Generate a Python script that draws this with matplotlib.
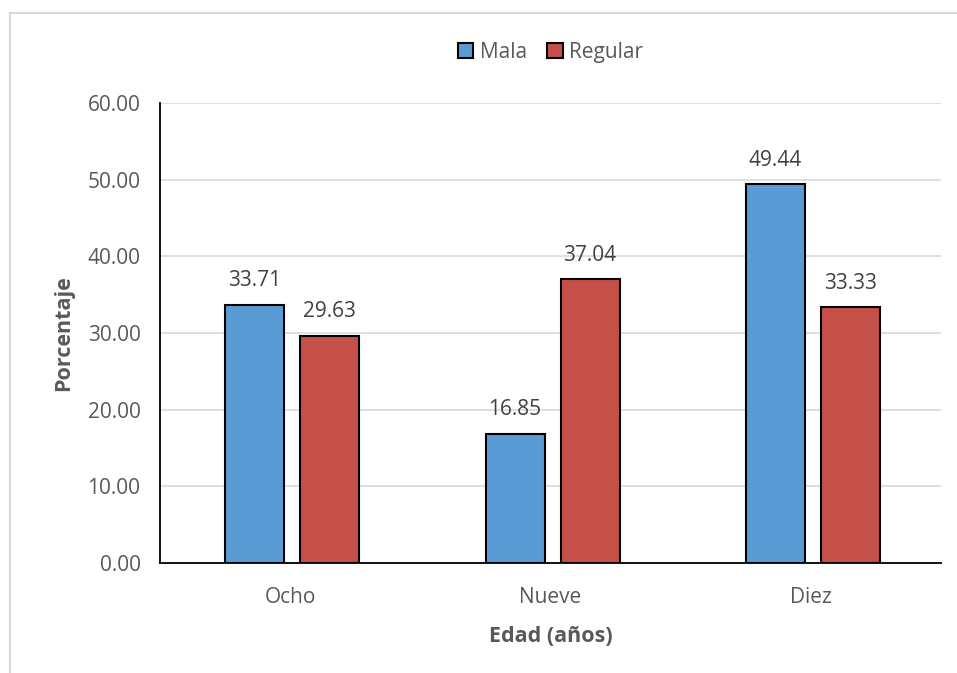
import matplotlib
matplotlib.use('Agg')
import matplotlib.pyplot as plt
from matplotlib.lines import Line2D
import numpy as np

categorias = ['Ocho', 'Nueve', 'Diez']
series = ['Mala', 'Regular']
mala = [33.71, 16.85, 49.44]
regular = [29.63, 37.04, 33.33]
colores = ['#5B9BD5', '#C55049']

plt.rcParams['font.family'] = ['Open Sans', 'DejaVu Sans']
gris = '#595959'
fs = 15

fig = plt.figure(figsize=(9.57, 6.73), dpi=100)
ax = fig.add_axes([160 / 957, 1 - 563 / 673, 781 / 957, 460 / 673])

# marco del grafico (solo se ven borde superior e izquierdo)
fig.add_artist(Line2D([10 / 957, 1], [1 - 13 / 673] * 2, color='#D9D9D9', lw=1.5))
fig.add_artist(Line2D([10 / 957] * 2, [0, 1 - 13 / 673], color='#D9D9D9', lw=1.5))

x = np.arange(len(categorias))
ancho = 0.227
desp = 0.144
for i, (vals, nombre) in enumerate([(mala, series[0]), (regular, series[1])]):
    pos = x + 0.008 + (-desp if i == 0 else desp)
    barras = ax.bar(pos, vals, ancho, color=colores[i], edgecolor='black',
                    linewidth=1.5, label=nombre, zorder=3)
    for b, v in zip(barras, vals):
        ax.text(b.get_x() + b.get_width() / 2, v + 1.75, '%.2f' % v,
                ha='center', va='bottom', fontsize=fs, color='#404040')

ax.set_xlim(-0.5, 2.5)
ax.set_ylim(0, 60)
ax.set_yticks(np.arange(0, 61, 10))
ax.set_yticklabels(['%.2f' % t for t in np.arange(0, 61, 10)])
ax.set_xticks(x)
ax.set_xticklabels(categorias)
ax.yaxis.grid(True, color='#D9D9D9', lw=1.2, zorder=0)
ax.set_axisbelow(True)
ax.tick_params(axis='both', length=0, labelsize=fs, labelcolor=gris)
ax.tick_params(axis='x', pad=17)
ax.tick_params(axis='y', pad=14)
for s in ['top', 'right']:
    ax.spines[s].set_visible(False)
for s in ['left', 'bottom']:
    ax.spines[s].set_color('black')
    ax.spines[s].set_linewidth(1.3)

ax.set_xlabel('Edad (años)', fontsize=15.5, fontweight='bold', color=gris, labelpad=13)
ax.set_ylabel('Porcentaje', fontsize=15.5, fontweight='bold', color=gris, labelpad=10)

ax.legend(loc='center', bbox_to_anchor=(0.5, 1 + 51 / 460), ncol=2, frameon=False,
          fontsize=fs, labelcolor=gris, handlelength=0.75, handleheight=0.75,
          handletextpad=0.3, columnspacing=1.0)

fig.savefig('out.png', dpi=100, facecolor='white')
